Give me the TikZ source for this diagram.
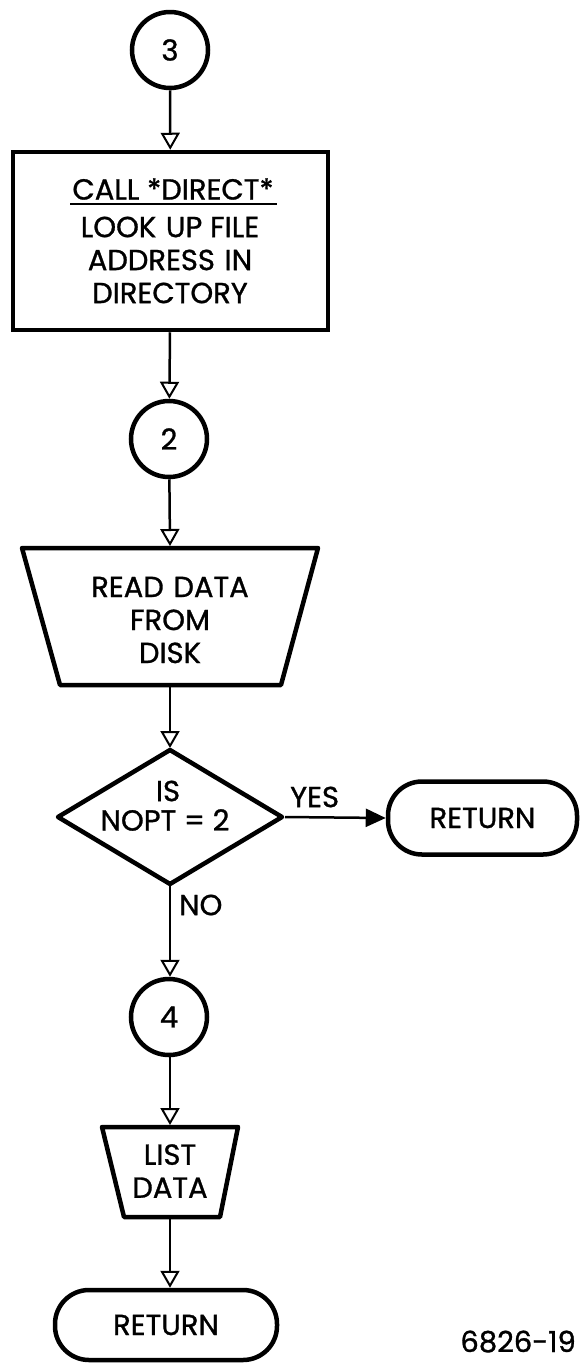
\documentclass[tikz,border=0pt]{standalone}
\usepackage{fontspec}
\setmainfont{Poppins}[FakeBold=1]
\usetikzlibrary{arrows.meta}
\begin{document}
\begin{tikzpicture}[x=1pt,y=-1pt,
  shp/.style={line width=4.5pt,line join=round},
  conn/.style={line width=2.5pt},
  openarrow/.style={conn,-{Triangle[open,length=17pt,width=19pt,line width=2pt]}},
  fillarrow/.style={conn,-{Triangle[length=20pt,width=18pt]}},
  lbl/.style={font=\fontsize{29}{33}\selectfont,align=center,inner sep=0pt},
  conncircle/.style={circle,draw,line width=4.5pt,minimum size=76pt,inner sep=0pt,font=\fontsize{29}{30}\selectfont},
  term/.style={draw,line width=4.5pt,rounded corners=34pt,inner sep=0pt,font=\fontsize{29}{30}\selectfont}]
\useasboundingbox (0,0) rectangle (580,1366);

% connector 3
\node[conncircle] (c3) at (170,50) {3};
% process box
\node[draw,line width=4.5pt,minimum width=315pt,minimum height=178pt,inner sep=0pt] (b1) at (170.5,241) {};
\node[lbl] (b1t) at (173,189) {CALL *DIRECT*};
\coordinate (ulA) at (70,204);
\coordinate (ulB) at (277,204);
\draw[conn] (ulA) -- (ulB);
\node[lbl] (b1b) at (170,260) {LOOK\,\,UP FILE\\ADDRESS\,\,IN\\DIRECTORY};

% connector 2
\node[conncircle] (c2) at (169,439) {2};

% read data trapezoid
\coordinate (t1a) at (22,548);
\coordinate (t1b) at (318,548);
\coordinate (t1c) at (281,685);
\coordinate (t1d) at (60,685);
\draw[shp] (t1a) -- (t1b) -- (t1c) -- (t1d) -- cycle;
\coordinate (t1n) at (170,546);
\coordinate (t1s) at (170,687);
\node[lbl] (t1t) at (170,620) {READ\,\,DATA\\FROM\\DISK};

% decision diamond
\coordinate (dN) at (170,750);
\coordinate (dE) at (282,817);
\coordinate (dS) at (170,884);
\coordinate (dW) at (58,817);
\draw[shp] (dN) -- (dE) -- (dS) -- (dW) -- cycle;
\coordinate (dNo) at (170,748);
\coordinate (dEo) at (285,817);
\node[lbl] (is) at (168,791) {IS};
\node[lbl] (nopt) at (165,820) {NOPT = 2};
\node[lbl,anchor=west] (yes) at (290,797) {YES};
\node[lbl,anchor=west] (no) at (179,905) {NO};

% return right
\node[term,minimum width=189pt,minimum height=73pt] (r1) at (482.5,818) {RETURN};

% connector 4
\node[conncircle] (c4) at (169,1017) {4};

% list data trapezoid
\coordinate (t2a) at (102,1127);
\coordinate (t2b) at (238,1127);
\coordinate (t2c) at (220,1217);
\coordinate (t2d) at (124,1217);
\draw[shp] (t2a) -- (t2b) -- (t2c) -- (t2d) -- cycle;
\coordinate (t2n) at (170,1125);
\coordinate (t2s) at (170,1219);
\node[lbl] (t2t) at (170,1171) {LIST\\DATA};

% return bottom
\node[term,minimum width=222pt,minimum height=70pt] (r2) at (166,1325) {RETURN};

% figure number
\node[lbl,anchor=base east] (fig) at (576,1352) {6826-19};

% connectors
\draw[openarrow] (c3) -- (b1);
\draw[openarrow] (b1.south -| c3) -- (c2);
\draw[openarrow] (c2) -- (t1n);
\draw[openarrow] (t1s) -- (dNo);
\draw[fillarrow] (dEo) -- (r1.west);
\draw[openarrow] (dS) -- (c4.north -| dS);
\draw[openarrow] (c4.south -| dS) -- (t2n);
\draw[openarrow] (t2s) -- (r2.north -| t2s);
\end{tikzpicture}
\end{document}
